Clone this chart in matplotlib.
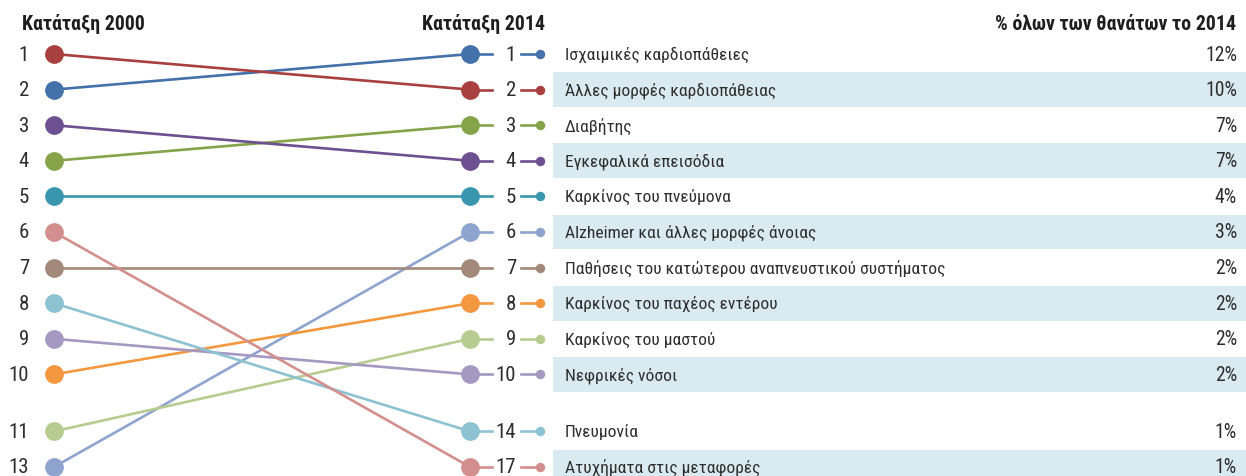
import matplotlib
matplotlib.use("Agg")
import matplotlib.pyplot as plt
from matplotlib import font_manager

# ---------------- data ----------------
causes = [
    "Ισχαιμικές καρδιοπάθειες",
    "Άλλες μορφές καρδιοπάθειας",
    "Διαβήτης",
    "Εγκεφαλικά επεισόδια",
    "Καρκίνος του πνεύμονα",
    "Alzheimer και άλλες μορφές άνοιας",
    "Παθήσεις του κατώτερου αναπνευστικού συστήματος",
    "Καρκίνος του παχέος εντέρου",
    "Καρκίνος του μαστού",
    "Νεφρικές νόσοι",
    "Πνευμονία",
    "Ατυχήματα στις μεταφορές",
]
rank_2014 = [1, 2, 3, 4, 5, 6, 7, 8, 9, 10, 14, 17]
rank_2000 = [2, 1, 4, 3, 5, 13, 7, 10, 11, 9, 8, 6]
pct_2014 = [12, 10, 7, 7, 4, 3, 2, 2, 2, 2, 1, 1]
colors = ["#4471a9", "#a8403f", "#85a449", "#6c5090", "#3a95ae", "#8ea4cf",
          "#a2897a", "#f4983f", "#b6cc90", "#a598c1", "#8dc2d3", "#d38f8e"]
title_2000 = "Κατάταξη 2000"
title_2014 = "Κατάταξη 2014"
title_pct = "% όλων των θανάτων το 2014"

# ---------------- fonts ----------------
avail = {f.name for f in font_manager.fontManager.ttflist}
fam = None
for cand in ["Liberation Sans Narrow", "Roboto Condensed", "Open Sans Condensed", "Noto Sans", "DejaVu Sans"]:
    if cand in avail:
        fam = cand
        break
plt.rcParams["font.family"] = [fam, "DejaVu Sans"]

# ---------------- layout ----------------
W, H = 1246, 477
fig = plt.figure(figsize=(W / 100, H / 100), dpi=100)
ax = fig.add_axes([0, 0, 1, 1])

X0_PX, X1_PX = 54, 470          # pixel x of 2000 and 2014 dots
def px(x):
    return (x - X0_PX) / (X1_PX - X0_PX)

slot_pos = [1, 2, 3, 4, 5, 6, 7, 8, 9, 10, 11.6, 12.6]
ROW_PX = 35.6
Y1_PX = 55
ax.set_xlim(px(0), px(W))
ax.set_ylim(1 + (H - Y1_PX) / ROW_PX, 1 - Y1_PX / ROW_PX)
ax.axis("off")

def slots_for(ranks):
    order = sorted(ranks)
    return [slot_pos[order.index(r)] for r in ranks]

y00 = slots_for(rank_2000)
y14 = slots_for(rank_2014)

text_col = "#2e2e2e"
FS = 12.6
FS_NUM = 15
FS_PCT = 14.2
FS_TITLE = 14.3

# bands
for i in range(len(causes)):
    if i % 2 == 1:
        ax.fill_between([px(553), px(W)], y14[i] - 0.49, y14[i] + 0.49,
                        color="#daeaf1", lw=0, zorder=0)

for i, c in enumerate(causes):
    col = colors[i]
    ax.plot([0, 1], [y00[i], y14[i]], color=col, lw=1.9, zorder=2, solid_capstyle="butt")
    ax.plot([0], [y00[i]], "o", ms=13.5, color=col, mec="none", zorder=3)
    ax.plot([1], [y14[i]], "o", ms=13.5, color=col, mec="none", zorder=3)
    ax.plot([1, px(492)], [y14[i], y14[i]], color=col, lw=1.9, zorder=2)
    ax.plot([px(521), px(540)], [y14[i], y14[i]], color=col, lw=1.9, zorder=2)
    ax.plot([px(540)], [y14[i]], "o", ms=6.8, color=col, mec="none", zorder=3)
    ax.text(px(29), y00[i], str(rank_2000[i]), ha="right", va="center",
            fontsize=FS_NUM, color=text_col)
    ax.text(px(516), y14[i], str(rank_2014[i]), ha="right", va="center",
            fontsize=FS_NUM, color=text_col)
    ax.text(px(565), y14[i], c, ha="left", va="center", fontsize=FS, color=text_col)
    ax.text(px(1237), y14[i], f"{pct_2014[i]}%", ha="right", va="center",
            fontsize=FS_PCT, color=text_col)

ytitle = 1 - (Y1_PX - 24) / ROW_PX
ax.text(px(22), ytitle, title_2000, ha="left", va="center", fontsize=FS_TITLE,
        fontweight="bold", color="#1e1e1e")
ax.text(px(545), ytitle, title_2014, ha="right", va="center", fontsize=FS_TITLE,
        fontweight="bold", color="#1e1e1e")
ax.text(px(1236), ytitle, title_pct, ha="right", va="center", fontsize=FS_TITLE,
        fontweight="bold", color="#1e1e1e")

fig.savefig("out.png", dpi=100)
